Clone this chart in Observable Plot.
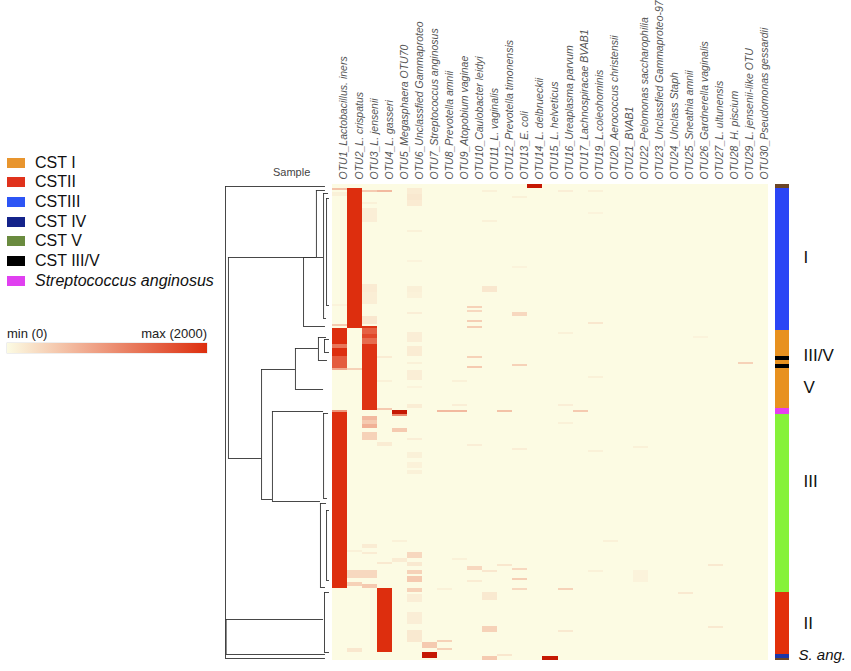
<!DOCTYPE html>
<html><head><meta charset="utf-8">
<script src="https://cdn.jsdelivr.net/npm/d3@7"></script>
<script src="https://cdn.jsdelivr.net/npm/@observablehq/plot@0.6"></script>
<style>
body{margin:0;background:#fff;font-family:"Liberation Sans",Arial,sans-serif;}
#wrap{position:relative;width:851px;height:671px;overflow:hidden;background:#fff;}
#wrap svg{position:absolute;top:0;}
.lg{position:absolute;left:0;top:153px;}
.lg .it{display:flex;align-items:center;height:19.65px;}
.lg .sw{width:18px;height:10px;margin-left:7px;margin-right:10px;}
.lg .tx{font-size:16px;color:#111;line-height:16px;}
</style></head><body><div id="wrap"></div>
<script>
// ---------- data ----------
const otuLabels = [
  "OTU1_Lactobacillus. iners","OTU2_L. crispatus","OTU3_L. jensenii","OTU4_L. gasseri",
  "OTU5_Megasphaera OTU70","OTU6_Unclassfied Gammaproteo","OTU7_Streptococcus anginosus",
  "OTU8_Prevotella amnii","OTU9_Atopobium vaginae","OTU10_Caulobacter leidyi","OTU11_L. vaginalis",
  "OTU12_Prevotella timonensis","OTU13_E. coli","OTU14_L. delbrueckii","OTU15_L. helveticus",
  "OTU16_Ureaplasma parvum","OTU17_Lachnospiracae BVAB1","OTU19_L.coleohominis",
  "OTU20_Aerococcus christensii","OTU21_BVAB1","OTU22_Pelomonas saccharophilia",
  "OTU23_Unclassfied Gammaproteo-97","OTU24_Unclass Staph","OTU25_Sneathia amnii",
  "OTU26_Gardnerella vaginalis","OTU27_L. ultunensis","OTU28_H. piscium",
  "OTU29_L. jensenii-like OTU","OTU30_Pseudomonas gessardii"
];
const nSamples = 238;
// [OTU column (1-based), first sample, last sample, abundance]
const heatBlocks = [
  [14,0,1,2800],[2,2,71,2000],[3,71,112,1950],[1,72,92,2000],[5,113,114,2800],
  [1,113,201,2000],[4,202,233,2000],[7,234,236,2800],[15,236,237,2800],
  [3,72,74,1500],[3,75,76,1750],[3,77,79,1400],[1,80,81,1300],[1,86,91,1550],[1,92,92,800],
  [1,113,113,1000],[5,115,115,1100],[2,92,92,400],[1,70,70,480],[1,2,2,560],
  [3,3,3,480],[4,3,3,640],[4,112,112,480],[8,113,113,640],[9,113,113,640],[12,113,113,560],
  [17,113,113,480],[11,236,237,480],
  [6,2,4,150],[6,5,7,190],[6,8,10,160],[6,23,23,100],[6,38,38,75],[6,51,53,110],[6,54,56,90],
  [6,64,64,125],[6,74,78,125],[6,81,85,150],[6,89,89,100],[6,93,97,125],[6,101,101,75],[6,110,111,140],
  [3,9,9,100],[3,12,18,125],[3,50,53,160],[3,54,59,130],[3,66,69,200],
  [4,86,86,150],[4,98,98,100],[1,4,5,100],[1,60,60,75],
  [10,61,61,400],[10,63,63,340],[10,68,68,440],[10,71,71,440],[10,86,86,400],[10,91,91,480],
  [11,51,53,200],[11,3,3,100],[11,18,18,100],
  [13,64,65,340],[13,90,90,400],[13,6,6,100],[13,41,41,75],
  [16,3,3,125],[16,74,74,100],[9,98,98,100],
  [18,3,3,100],[18,14,14,75],[18,69,69,200],[18,96,96,100],[28,89,89,400],[25,76,76,75],
  [3,116,117,640],[3,118,119,480],[3,120,121,720],[3,124,127,400],[3,180,181,150],[3,184,184,150],
  [3,193,196,340],[3,200,201,480],
  [5,122,123,480],[5,178,178,100],[5,187,188,150],[4,129,130,150],[4,189,189,175],
  [6,127,127,125],[6,134,136,100],[6,139,141,90],[6,143,144,100],[6,184,186,340],[6,189,190,175],
  [6,193,194,400],[6,196,198,480],[6,202,203,400],[6,205,208,125],[6,214,219,125],[6,223,228,175],
  [2,183,183,100],[2,193,196,340],[2,199,200,400],[2,232,233,200],
  [7,229,231,480],[8,202,202,100],[8,228,228,400],[8,232,232,400],
  [9,110,110,125],[9,187,187,100],[10,130,130,125],[10,191,192,340],[10,198,198,150],
  [11,193,193,200],[11,204,207,175],[11,221,223,400],[12,190,190,200],[12,235,235,200],
  [13,132,132,125],[13,192,192,340],[13,197,197,440],[13,202,202,340],
  [16,202,202,400],[16,223,223,175],[16,110,110,125],[16,119,119,100],
  [26,190,190,175],[26,221,221,175],[24,204,204,175],[18,133,133,100],[18,193,193,100],
  [21,131,131,100],[21,193,198,75],[19,178,178,100]
];
// sample annotation bar: group, first sample, last sample
const sideGroups = ["other","I","V","III/V","V","III/V","V","S. ang.","III","II","IV","other"];
const sideStart  = [0,2,73,86,88,90,92,112,115,204,235,237];
const sideEnd    = [1,72,85,87,89,91,111,114,203,234,236,237];
const regionLabels = ["I","III/V","V","III","II","S. ang."];
const regionRows   = [36.5,85.5,101.5,148.5,219.5,235.5];
const legendNames = ["CST I","CSTII","CSTIII","CST IV","CST V","CST III/V","Streptococcus anginosus"];
// dendrogram merges: [height, sample A, height A, sample B, height B]
const dendroMerges = [
  [1.000,1,0.057,237,0.057],[0.994,217.5,0.075,235,0.057],[0.972,36.5,0.142,137,0.660],
  [0.264,36.5,0.142,71,0.057],[0.142,3,0.057,36.5,0.075],[0.075,4.5,0.028,67,0.047],
  [0.047,7,0.019,60.5,0.019],[0.660,92.5,0.340,157.5,0.557],[0.340,82,0.123,102.5,0.075],
  [0.123,76.5,0.047,88,0.038],[0.066,77.5,0.019,84,0.019],[0.557,113.5,0.075,158.5,0.104],
  [0.104,159.5,0.047,201.5,0.057],[0.075,114.5,0.028,157,0.038],[0.047,163,0.019,198,0.019],
  [0.066,204,0.019,234,0.019]
];
// ---------- styles ----------
const heatRange = ["#fcfbe3","#dd2e0e","#bf1200"];
const sideColorKeys = ["other","I","V","III/V","S. ang.","III","II","IV"];
const sideColors = ["#6b4526","#2b45f5","#e8911f","#000000","#e63ff0","#86f23a","#e2300a","#1b36a8"];
const legendColors = ["#e8952e","#e0321c","#2d55f5","#14238a","#6a8b3f","#000000","#e040f0"];

// ---------- build ----------
const wrap = document.getElementById("wrap");
const nCol = otuLabels.length;
const cells = [];
for (let r = 0; r < nSamples; r++) for (let c = 0; c < nCol; c++) cells.push({otu: otuLabels[c], sample: r, value: 0});
for (const [col, r0, r1, v] of heatBlocks) for (let r = r0; r <= r1; r++) cells[r * nCol + col - 1].value = v;

const font = "'Liberation Sans', Arial, sans-serif";
const heat = Plot.plot({
  width: 436, height: 671, marginTop: 184, marginBottom: 11, marginLeft: 0, marginRight: 0,
  x: {type: "band", domain: otuLabels, padding: 0, round: false, axis: null},
  y: {type: "band", domain: d3.range(nSamples), padding: 0, round: false, axis: null},
  color: {type: "linear", domain: [0, 2000, 3000], range: heatRange, clamp: true},
  style: {background: "transparent", overflow: "visible", fontFamily: font},
  marks: [
    Plot.cell(cells, {x: "otu", y: "sample", fill: "value", inset: 0, shapeRendering: "crispEdges"}),
    Plot.text(otuLabels, {x: d => d, frameAnchor: "top", dy: -5, rotate: -90, textAnchor: "start",
      fontSize: 10.5, fontStyle: "italic", fill: "#555"})
  ]
});
heat.style.left = "332px";
wrap.appendChild(heat);

const vLines = dendroMerges.map(([h, ra, ha, rb, hb]) => ({x: h, y1: ra, y2: rb}));
const hLines = dendroMerges.flatMap(([h, ra, ha, rb, hb]) => [{y: ra, x1: h, x2: ha}, {y: rb, x1: h, x2: hb}]);
const dendro = Plot.plot({
  width: 332, height: 671, marginTop: 184, marginBottom: 11, marginLeft: 225, marginRight: 1,
  x: {domain: [1, 0], axis: null}, y: {domain: [0, nSamples], reverse: true, axis: null},
  style: {background: "transparent", overflow: "visible"},
  marks: [
    Plot.ruleX(vLines, {x: "x", y1: "y1", y2: "y2", stroke: "#333", strokeWidth: 0.9}),
    Plot.ruleY(hLines, {y: "y", x1: "x1", x2: "x2", stroke: "#333", strokeWidth: 0.9})
  ]
});
dendro.style.left = "0px";
wrap.appendChild(dendro);

const side = sideGroups.map((g, i) => ({group: g, y1: sideStart[i], y2: sideEnd[i] + 1}));
const regions = regionLabels.map((t, i) => ({t, y: regionRows[i]}));
const sidebar = Plot.plot({
  width: 81, height: 671, marginTop: 184, marginBottom: 11, marginLeft: 5, marginRight: 62,
  x: {domain: [0, 1], axis: null}, y: {domain: [0, nSamples], reverse: true, axis: null},
  color: {type: "ordinal", domain: sideColorKeys, range: sideColors},
  style: {background: "transparent", overflow: "visible", fontFamily: font},
  marks: [
    Plot.rect(side, {x1: 0, x2: 1, y1: "y1", y2: "y2", fill: "group", shapeRendering: "crispEdges"}),
    Plot.text(regions.filter(d => d.t !== "S. ang."), {y: "y", text: "t", frameAnchor: "right", dx: 14,
      textAnchor: "start", fontSize: 17, fill: "#111"}),
    Plot.text(regions.filter(d => d.t === "S. ang."), {y: "y", text: "t", frameAnchor: "right", dx: 9,
      textAnchor: "start", fontSize: 15, fontStyle: "italic", fill: "#111"})
  ]
});
sidebar.style.left = "770px";
wrap.appendChild(sidebar);

// legend
const lg = document.createElement("div");
lg.className = "lg";
legendNames.forEach((n, i) => {
  const it = document.createElement("div"); it.className = "it";
  const sw = document.createElement("div"); sw.className = "sw"; sw.style.background = legendColors[i];
  const tx = document.createElement("div"); tx.className = "tx"; tx.textContent = n;
  if (n.startsWith("Streptococcus")) tx.style.fontStyle = "italic";
  it.appendChild(sw); it.appendChild(tx); lg.appendChild(it);
});
wrap.appendChild(lg);

const cs = heat.scale("color");
const stops = d3.range(0, 2001, 200).map(v => `${cs.apply(v)} ${v / 20}%`).join(",");
const grad = document.createElement("div");
grad.style.cssText = `position:absolute;left:7px;top:343px;width:200px;height:10px;background:linear-gradient(to right,${stops});box-shadow:0 0 0 0.5px #ddd;`;
wrap.appendChild(grad);
const mk = (txt, css) => { const d = document.createElement("div"); d.textContent = txt; d.style.cssText = "position:absolute;white-space:nowrap;" + css; wrap.appendChild(d); };
mk("min (0)", "left:7px;top:326px;font-size:13px;color:#222;");
mk("max (2000)", "right:644px;top:326px;font-size:13px;color:#222;");
mk("Sample", "left:273px;top:166px;font-size:11px;color:#444;");
</script></body></html>
